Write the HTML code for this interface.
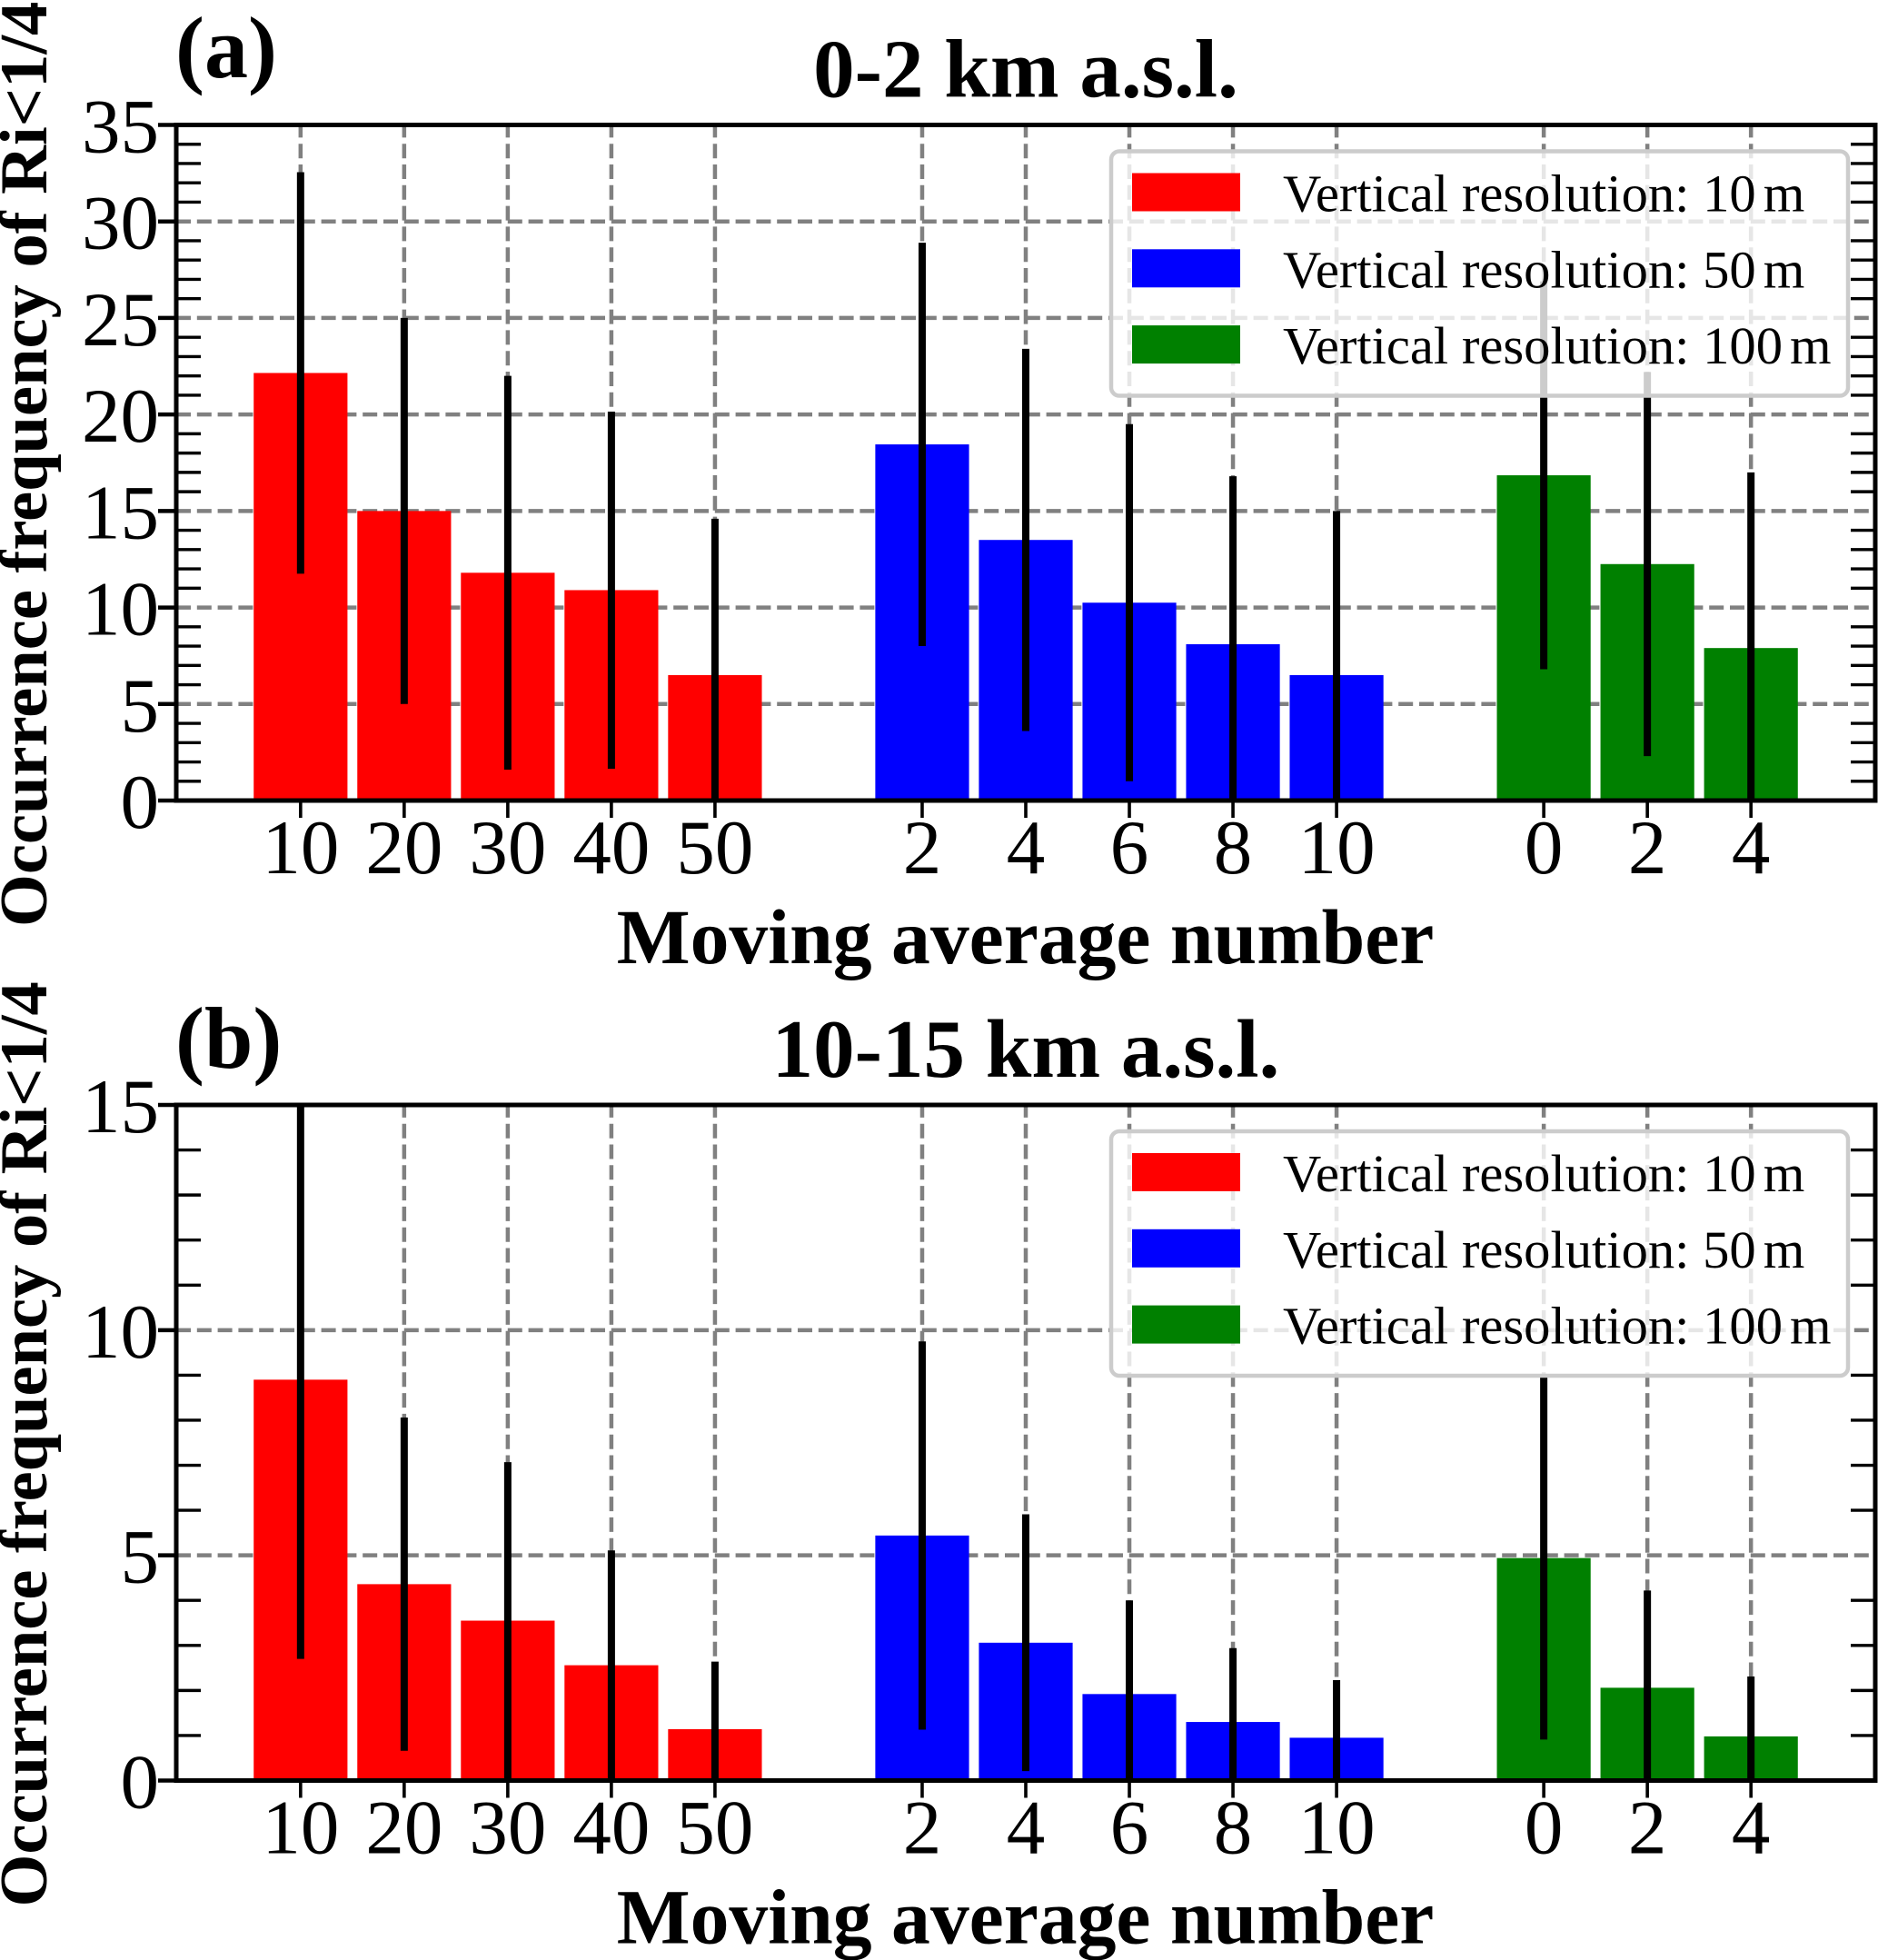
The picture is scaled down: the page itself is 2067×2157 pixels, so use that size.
<!DOCTYPE html>
<html lang="en">
<head>
<meta charset="utf-8">
<title>Occurrence frequency of Ri&lt;1/4</title>
<style>
html,body{margin:0;padding:0;background:#fff;}
svg{display:block;}
text{font-family:"Liberation Serif","Times New Roman",serif;fill:#000;}
</style>
</head>
<body>
<svg id="chart" xmlns="http://www.w3.org/2000/svg" width="2067" height="2157" viewBox="0 0 2067 2157"></svg>
<script>
const redCategories = ['10', '20', '30', '40', '50'];
const blueCategories = ['2', '4', '6', '8', '10'];
const greenCategories = ['0', '2', '4'];
const legendLabels = ['10', '50', '100'];
const seriesColors = ['#ff0000', '#0000ff', '#008000'];

const titleA = '0-2 km a.s.l.';
const titleB = '10-15 km a.s.l.';
const yTicksA = [0, 5, 10, 15, 20, 25, 30, 35];
const yTicksB = [0, 5, 10, 15];

const redValuesA = [22.15, 15.0, 11.8, 10.9, 6.5];
const redErrorsA = [10.4, 10.0, 10.2, 9.25, 8.1];
const blueValuesA = [18.45, 13.5, 10.25, 8.1, 6.5];
const blueErrorsA = [10.45, 9.9, 9.25, 8.7, 8.5];
const greenValuesA = [16.85, 12.25, 7.9];
const greenErrorsA = [10.05, 9.95, 9.1];

const redValuesB = [8.9, 4.36, 3.55, 2.56, 1.14];
const redErrorsB = [6.2, 3.7, 3.52, 2.55, 1.5];
const blueValuesB = [5.44, 3.06, 1.92, 1.3, 0.95];
const blueErrorsB = [4.31, 2.85, 2.08, 1.64, 1.28];
const greenValuesB = [4.94, 2.06, 0.98];
const greenErrorsB = [4.03, 2.16, 1.33];

const SVG_NS = 'http://www.w3.org/2000/svg';
const root = document.getElementById('chart');
const AXIS_LEFT = 194, AXIS_RIGHT = 2064;
const X_MIN = -0.2, X_MAX = 16.2;
const BAR_WIDTH = 0.905;
const GROUP_GAP = 2;

function make(tag, attrs, parent, content) {
  const el = document.createElementNS(SVG_NS, tag);
  for (const k in attrs) el.setAttribute(k, attrs[k]);
  if (content !== undefined) el.textContent = content;
  parent.appendChild(el);
  return el;
}

function xScale(v) {
  return AXIS_LEFT + (v - X_MIN) / (X_MAX - X_MIN) * (AXIS_RIGHT - AXIS_LEFT);
}

function drawPanel(cfg) {
  const top = cfg.top, bottom = cfg.bottom;
  const yMax = cfg.yTicks[cfg.yTicks.length - 1];
  const yScale = v => bottom - v / yMax * (bottom - top);
  const key = cfg.key;

  const panel = make('g', {}, root);
  
  

  const clipId = 'plot-clip-' + key;
  const defs = make('defs', {}, panel);
  const clip = make('clipPath', { id: clipId }, defs);
  make('rect', { x: AXIS_LEFT, y: top, width: AXIS_RIGHT - AXIS_LEFT, height: bottom - top }, clip);

  const groups = [
    { name: 'red', categories: redCategories, values: cfg.red, errors: cfg.redErr, color: seriesColors[0] },
    { name: 'blue', categories: blueCategories, values: cfg.blue, errors: cfg.blueErr, color: seriesColors[1] },
    { name: 'green', categories: greenCategories, values: cfg.green, errors: cfg.greenErr, color: seriesColors[2] }
  ];
  let cursor = 1;
  groups.forEach(g => {
    g.slots = g.categories.map((c, i) => cursor + i);
    cursor += g.categories.length + GROUP_GAP - 1;
  });

  // Grid
  const grid = make('g', { stroke: '#808080', 'stroke-width': 4.5, 'stroke-dasharray': '16 6.8', fill: 'none' }, panel);
  
  
  cfg.yTicks.forEach(t => {
    const line = make('line', { x1: AXIS_LEFT, x2: AXIS_RIGHT, y1: yScale(t), y2: yScale(t) }, grid);
    
    
  });
  groups.forEach(g => g.slots.forEach(s => {
    const line = make('line', { x1: xScale(s), x2: xScale(s), y1: bottom, y2: top }, grid);
    
    
  }));

  // Bars
  groups.forEach(g => g.values.forEach((v, i) => {
    const x0 = xScale(g.slots[i] - BAR_WIDTH / 2), x1 = xScale(g.slots[i] + BAR_WIDTH / 2);
    const bar = make('rect', { x: x0, y: yScale(v), width: x1 - x0, height: bottom - yScale(v), fill: g.color }, panel);
    
    
  }));

  // Error bars
  const errs = make('g', { 'clip-path': 'url(#' + clipId + ')', stroke: '#000', 'stroke-width': 8 }, panel);
  
  
  groups.forEach(g => g.values.forEach((v, i) => {
    const cx = xScale(g.slots[i]);
    const line = make('line', { x1: cx, x2: cx, y1: yScale(v - g.errors[i]), y2: yScale(v + g.errors[i]) }, errs);
    
    
  }));

  // Minor ticks (inward, both sides)
  const minor = make('g', { stroke: '#000', 'stroke-width': 3.4 }, panel);
  
  
  for (let k = 0; k < cfg.yTicks.length - 1; k++) {
    const lo = cfg.yTicks[k], hi = cfg.yTicks[k + 1];
    for (let m = 1; m < 5; m++) {
      const yy = yScale(lo + (hi - lo) * m / 5);
      const left = make('line', { x1: AXIS_LEFT, x2: AXIS_LEFT + 27, y1: yy, y2: yy }, minor);
      
      
      const right = make('line', { x1: AXIS_RIGHT, x2: AXIS_RIGHT - 27, y1: yy, y2: yy }, minor);
      
      
    }
  }

  // Frame
  const frame = make('rect', { x: AXIS_LEFT, y: top, width: AXIS_RIGHT - AXIS_LEFT, height: bottom - top, fill: 'none', stroke: '#000', 'stroke-width': 5 }, panel);
  
  

  // Y ticks and labels
  cfg.yTicks.forEach(t => {
    const tick = make('line', { x1: AXIS_LEFT - 20, x2: AXIS_LEFT, y1: yScale(t), y2: yScale(t), stroke: '#000', 'stroke-width': 4.5 }, panel);
    
    
    const label = make('text', { x: 175, y: yScale(t) + 30, 'text-anchor': 'end', 'font-size': 85 }, panel, String(t));
    
    
  });

  // X ticks and labels
  groups.forEach(g => g.slots.forEach((s, i) => {
    const tick = make('line', { x1: xScale(s), x2: xScale(s), y1: bottom, y2: bottom + 19, stroke: '#000', 'stroke-width': 3.6 }, panel);
    
    
    const label = make('text', { x: xScale(s), y: bottom + 80, 'text-anchor': 'middle', 'font-size': 85 }, panel, g.categories[i]);
    
    
  }));

  // Titles
  const title = make('text', { x: 1129, y: top - 31, 'text-anchor': 'middle', 'font-size': 91, 'font-weight': 'bold' }, panel, cfg.title);
  
  

  const letter = make('text', { x: 193, y: cfg.letterY, 'font-size': 96, 'font-weight': 'bold' }, panel, '(' + key + ')');
  
  

  const xTitle = make('text', { x: 1128.5, y: bottom + 179, 'text-anchor': 'middle', 'font-size': 85.7, 'font-weight': 'bold' }, panel, 'Moving average number');
  
  

  const yTitle = make('text', { transform: 'translate(51,' + (bottom + 139) + ') rotate(-90)', 'font-size': 74.5, 'font-weight': 'bold' }, panel, 'Occurrence frequency of Ri<1/4');
  
  

  // Legend
  const legend = make('g', {}, panel);
  
  
  const box = make('rect', { x: 1223, y: top + 29, width: 811, height: 269, rx: 9, ry: 9, fill: 'rgba(255,255,255,0.8)', stroke: '#cccccc', 'stroke-width': 4.5 }, legend);
  
  
  legendLabels.forEach((lab, i) => {
    const rowTop = top + 53 + i * 83.8;
    const swatch = make('rect', { x: 1246, y: rowTop, width: 119, height: 42, fill: seriesColors[i] }, legend);
    
    
    const text = make('text', { x: 1412, y: rowTop + 42, 'font-size': 58.6 }, legend, 'Vertical resolution: ' + lab);
    
    
    const unit = make('tspan', { dx: 8 }, text, 'm');
    
    
  });
}

drawPanel({
  key: 'a', top: 137.5, bottom: 881, letterY: 85, yTicks: yTicksA, title: titleA,
  red: redValuesA, redErr: redErrorsA,
  blue: blueValuesA, blueErr: blueErrorsA,
  green: greenValuesA, greenErr: greenErrorsA
});
drawPanel({
  key: 'b', top: 1216, bottom: 1959.5, letterY: 1175, yTicks: yTicksB, title: titleB,
  red: redValuesB, redErr: redErrorsB,
  blue: blueValuesB, blueErr: blueErrorsB,
  green: greenValuesB, greenErr: greenErrorsB
});
</script>
</body>
</html>
